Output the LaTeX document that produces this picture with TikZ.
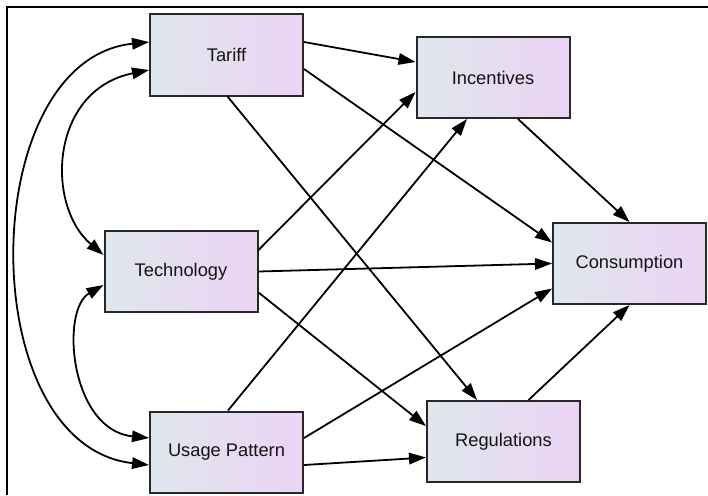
\documentclass[tikz,border=0pt]{standalone}
\usepackage{fontspec}
\setmainfont{Liberation Sans}
\usetikzlibrary{arrows.meta}
\definecolor{boxL}{RGB}{223,231,237}
\definecolor{boxR}{RGB}{236,211,244}
\definecolor{boxEdge}{RGB}{40,40,40}
\definecolor{ink}{RGB}{20,20,20}
\begin{document}
\begin{tikzpicture}[x=1pt,y=-1pt,
  var/.style={draw=boxEdge, line width=2pt, left color=boxL, right color=boxR,
    minimum width=153pt, minimum height=81pt, inner sep=0pt, text=ink,
    font=\fontsize{18.3}{21}\selectfont},
  tip/.tip={Triangle[length=17pt,width=11.5pt]},
  path/.style={draw=black, line width=1.8pt, -tip},
  cov/.style={draw=black, line width=1.8pt, tip-tip}
]
\useasboundingbox (0,0) rectangle (708,495);
% frame
\draw[line width=2.6pt] (7,495) -- (7,7) -- (708,7);

% variables
\node[var] (tariff) at (226.5,55) {Tariff};
\node[var] (tech)   at (181,271.5) {Technology};
\node[var] (usage)  at (226.5,452) {Usage Pattern};
\node[var] (inc)    at (493,77.5) {Incentives};
\node[var] (cons)   at (629.5,263.5) {Consumption};
\node[var] (reg)    at (503.5,441.5) {Regulations};

% directed paths
\draw[path] ([yshift=13pt]tariff.east) -- ([yshift=15.5pt]inc.west);
\draw[path] ([yshift=-14pt]tariff.east) -- ([yshift=21pt]cons.west);
\draw[path] ([xshift=1pt]tariff.south) -- ([xshift=-26.5pt]reg.north);
\draw[path] ([xshift=25pt]inc.south) -- (cons.north);
\draw[path] ([yshift=21.5pt]tech.east) -- ([yshift=-14.5pt]inc.west);
\draw[path] (tech.east) -- (cons.west);
\draw[path] ([yshift=-21pt]tech.east) -- ([yshift=15.5pt]reg.west);
\draw[path] ([xshift=1.5pt]usage.north) -- ([xshift=-26pt]inc.south);
\draw[path] ([yshift=14pt]usage.east) -- ([yshift=-25pt]cons.west);
\draw[path] ([yshift=-13pt]usage.east) -- ([yshift=-16pt]reg.west);
\draw[path] ([xshift=25pt]reg.north) -- (cons.south);

% covariances
\draw[cov] ([yshift=-15pt]tariff.west) .. controls (50,90) and (45,205) .. ([yshift=16.5pt]tech.west);
\draw[cov] ([yshift=-13.5pt]tech.west) .. controls (60,310) and (70,430) .. ([yshift=14pt]usage.west);
\draw[cov] ([yshift=13pt]tariff.west) .. controls (-25,60) and (-28,445) .. ([yshift=-13pt]usage.west);
\end{tikzpicture}
\end{document}
